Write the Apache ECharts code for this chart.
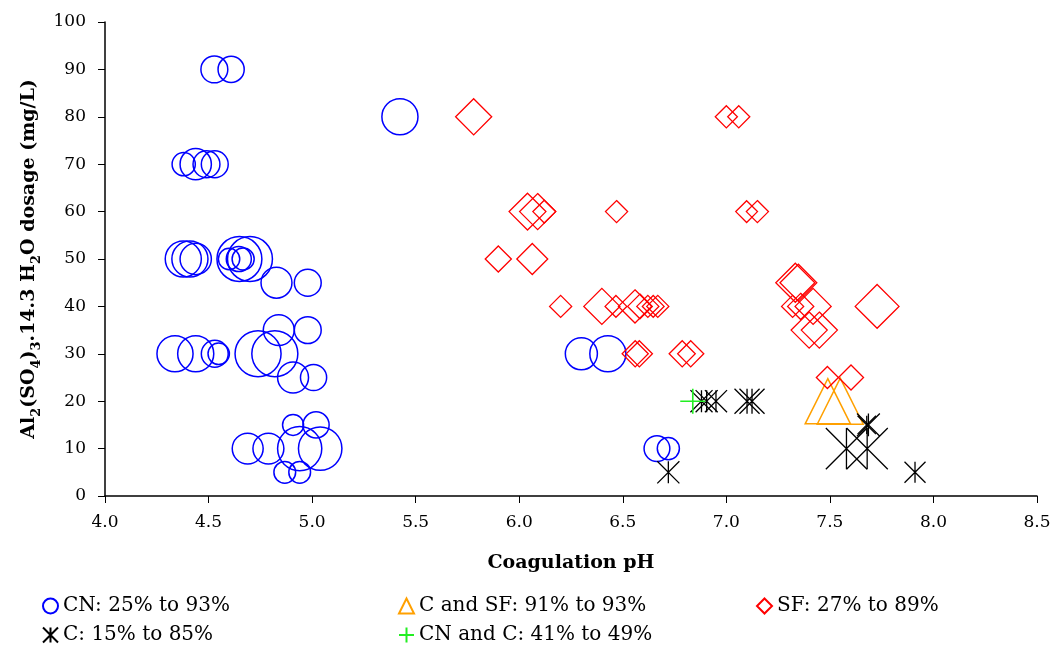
<!DOCTYPE html>
<html>
<head>
<meta charset="utf-8">
<script src="https://cdn.jsdelivr.net/npm/echarts@6/dist/echarts.min.js"></script>
<style>html,body{margin:0;padding:0;background:#fff}#c{width:1056px;height:647px}</style>
</head>
<body>
<div id="c"></div>
<script>
// [coagulation pH, Al2(SO4)3 dosage mg/L, removal %]
const cnPoints = [
  [4.528, 90, 41], [4.609, 90, 39],
  [4.38, 70, 31], [4.438, 70, 53], [4.49, 70, 41], [4.53, 70, 41],
  [4.378, 50, 66], [4.41, 50, 66], [4.438, 50, 53], [4.649, 50, 90], [4.70, 50, 90],
  [4.599, 50, 26], [4.646, 50, 36], [4.667, 50, 28],
  [4.828, 45, 52], [4.979, 45, 41],
  [4.839, 35, 52], [4.979, 35, 41],
  [4.338, 30, 66], [4.438, 30, 66], [4.53, 30, 41], [4.549, 30, 26], [4.739, 30, 93], [4.82, 30, 93],
  [4.908, 25, 52], [5.007, 25, 39],
  [4.908, 15, 25], [5.019, 15, 39],
  [4.689, 10, 52], [4.789, 10, 52], [4.94, 10, 88], [5.039, 10, 86],
  [4.868, 5, 27], [4.94, 5, 27],
  [5.424, 80, 66],
  [6.30, 30, 55], [6.428, 30, 66],
  [6.665, 10, 38], [6.72, 10, 28]
];
const cSfPoints = [[7.49, 20, 91], [7.55, 20, 93]];
const sfPoints = [
  [5.78, 80, 66],
  [6.04, 60, 68], [6.089, 60, 66], [6.121, 60, 30], [6.47, 60, 28],
  [5.899, 50, 39], [6.063, 50, 52],
  [7.0, 80, 28], [7.06, 80, 28],
  [7.098, 60, 27], [7.15, 60, 28],
  [6.2, 40, 28], [6.399, 40, 66], [6.467, 40, 27], [6.559, 40, 58], [6.583, 40, 35],
  [6.621, 40, 28], [6.647, 40, 27], [6.669, 40, 28],
  [6.56, 30, 39], [6.58, 30, 39], [6.787, 30, 39], [6.828, 30, 39],
  [7.333, 45, 74], [7.348, 45, 68],
  [7.32, 40, 28], [7.359, 40, 39], [7.419, 40, 66], [7.728, 40, 87],
  [7.40, 35, 66], [7.449, 35, 66],
  [7.488, 25, 28], [7.602, 25, 36]
];
const cPoints = [
  [6.88, 20, 28], [6.905, 20, 28], [6.95, 20, 28], [7.10, 20, 36], [7.124, 20, 36],
  [7.686, 15, 30], [7.678, 15, 18],
  [7.58, 10, 80], [7.68, 10, 80],
  [6.72, 5, 28], [7.911, 5, 25]
];
const cnCPoints = [[6.838, 20, 36]];

const seriesNames = ['CN: 25% to 93%', 'C and SF: 91% to 93%', 'SF: 27% to 89%', 'C: 15% to 85%', 'CN and C: 41% to 49%'];
const xTicks = { min: 4, max: 8.5, step: 0.5 };
const yTicks = { min: 0, max: 100, step: 10 };

const FONT = 'DejaVu Serif';
const sizeOf = v => 11.8 + 0.368 * v[2];
const asterisk = 'path://M0,0L10,10M10,0L0,10M5,0L5,10';
const plus = 'path://M0,5L10,5M5,0L5,10';

function mk(name, data, symbol, color, bw) {
  return {
    name, type: 'scatter', data, symbol, symbolSize: sizeOf,
    itemStyle: { color: 'rgba(0,0,0,0)', borderColor: color, borderWidth: bw, opacity: 1 },
    emphasis: { disabled: true }
  };
}

function lg(name, left, top) {
  return {
    data: [name], left, top, orient: 'horizontal', itemWidth: 15, itemHeight: 15, itemGap: 0, padding: 0,
    textStyle: { fontFamily: FONT, fontSize: 20, color: '#000' }, selectedMode: false
  };
}

const chart = echarts.init(document.getElementById('c'), null, { renderer: 'canvas' });
chart.setOption({
  animation: false,
  backgroundColor: '#fff',
  grid: { left: 105, right: 19, top: 22, bottom: 151, containLabel: false },
  legend: [
    lg(seriesNames[0], 42, 596),
    lg(seriesNames[1], 398, 596),
    lg(seriesNames[2], 756, 596),
    lg(seriesNames[3], 42, 625),
    lg(seriesNames[4], 398, 625)
  ],
  xAxis: {
    type: 'value', min: xTicks.min, max: xTicks.max, interval: xTicks.step,
    name: 'Coagulation pH', nameLocation: 'middle', nameGap: 58,
    nameTextStyle: { fontFamily: FONT, fontWeight: 'bold', fontSize: 19, color: '#000' },
    axisLine: { lineStyle: { color: '#000', width: 1.5 } },
    axisTick: { inside: false, length: 7, lineStyle: { color: '#000' } },
    axisLabel: { fontFamily: FONT, fontSize: 17, color: '#000', margin: 18, formatter: v => v.toFixed(1) },
    splitLine: { show: false }
  },
  yAxis: {
    type: 'value', min: yTicks.min, max: yTicks.max, interval: yTicks.step,
    name: '{b|Al}{s|2}{b|(SO}{s|4}{b|)}{s|3}{b|.14.3 H}{s|2}{b|O dosage (mg/L)}',
    nameLocation: 'middle', nameRotate: 90, nameGap: 62,
    nameTextStyle: {
      rich: {
        b: { fontFamily: FONT, fontWeight: 'bold', fontSize: 19, color: '#000', lineHeight: 28 },
        s: { fontFamily: FONT, fontWeight: 'bold', fontSize: 13, color: '#000', lineHeight: 28, verticalAlign: 'bottom' }
      }
    },
    axisLine: { show: true, lineStyle: { color: '#000', width: 1.5 } },
    axisTick: { show: true, inside: false, length: 7, lineStyle: { color: '#000' } },
    axisLabel: { fontFamily: FONT, fontSize: 17, color: '#000', margin: 19 },
    splitLine: { show: false }
  },
  series: [
    mk(seriesNames[0], cnPoints, 'circle', '#0000ff', 1.5),
    mk(seriesNames[1], cSfPoints, 'triangle', '#ffa000', 1.5),
    mk(seriesNames[2], sfPoints, 'diamond', '#ff0000', 1.3),
    mk(seriesNames[3], cPoints, asterisk, '#000000', 1.3),
    mk(seriesNames[4], cnCPoints, plus, '#22ee22', 1.6)
  ]
});
</script>
</body>
</html>
